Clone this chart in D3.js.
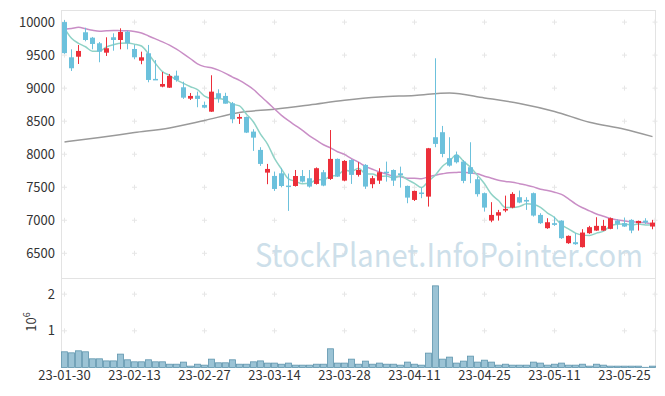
<!DOCTYPE html>
<html lang="en">
<head>
<meta charset="UTF-8">
<title>Candlestick chart</title>
<script src="https://cdn.jsdelivr.net/npm/d3@7"></script>
<style>
    body { margin: 0; background: #fff; }
    #chart text { font-family: "Noto Sans CJK KR", "Noto Sans", sans-serif; }
</style>
</head>
<body>
<div id="chart"></div>
<script>
    const W = 665, H = 396;

    // trading days shown (2023)
    const dates = [
        "2023-01-30","2023-01-31",
        "2023-02-01","2023-02-02","2023-02-03","2023-02-06","2023-02-07","2023-02-08","2023-02-09","2023-02-10",
        "2023-02-13","2023-02-14","2023-02-15","2023-02-16","2023-02-17","2023-02-20","2023-02-21","2023-02-22",
        "2023-02-23","2023-02-24","2023-02-27","2023-02-28",
        "2023-03-02","2023-03-03","2023-03-06","2023-03-07","2023-03-08","2023-03-09","2023-03-10","2023-03-13",
        "2023-03-14","2023-03-15","2023-03-16","2023-03-17","2023-03-20","2023-03-21","2023-03-22","2023-03-23",
        "2023-03-24","2023-03-27","2023-03-28","2023-03-29","2023-03-30","2023-03-31",
        "2023-04-03","2023-04-04","2023-04-05","2023-04-06","2023-04-07","2023-04-10","2023-04-11","2023-04-12",
        "2023-04-13","2023-04-14","2023-04-17","2023-04-18","2023-04-19","2023-04-20","2023-04-21","2023-04-24",
        "2023-04-25","2023-04-26","2023-04-27","2023-04-28",
        "2023-05-02","2023-05-03","2023-05-04","2023-05-08","2023-05-09","2023-05-10","2023-05-11","2023-05-12",
        "2023-05-15","2023-05-16","2023-05-17","2023-05-18","2023-05-19","2023-05-22","2023-05-23","2023-05-24",
        "2023-05-25","2023-05-26","2023-05-30","2023-05-31","2023-06-01"
    ];

    const open = [10000,9467,9476,9846,9764,9679,9537,9770,9729,9855,
        9593,9416,9528,9140,9023,9007,9189,9013,8841,8886,
        8746,8644,8923,8882,8771,8538,8564,8342,8065,7721,
        7671,7711,7525,7519,7670,7636,7550,7727,7626,7929,
        7600,7913,7687,7838,7546,7600,7735,7761,7711,7520,
        7308,7420,7358,8257,8333,7940,7989,7888,7803,7621,
        7410,6995,7071,7147,7192,7349,7308,7410,7081,6880,
        6956,6995,6653,6668,6593,6804,6844,6844,6870,6995,
        6956,7006,6956,6995,6905];
    const high = [10030,9588,9653,9915,9775,9699,9770,9830,9906,9870,
        9654,9552,9654,9425,9244,9215,9265,9098,8927,8947,
        8796,9195,8983,8930,8791,8610,8570,8378,8106,7853,
        7737,7787,7707,7761,7761,7761,7800,7761,8366,7935,
        7910,7925,7879,7850,7672,7788,7888,7770,7812,7525,
        7450,7495,8095,9452,8428,8257,8040,7913,8181,7661,
        7420,7274,7157,7373,7425,7450,7349,7420,7107,7031,
        7056,7000,6770,6804,6865,6915,7046,7006,7041,7016,
        7041,7016,6995,7031,7006];
    const low = [9520,9260,9366,9709,9588,9392,9487,9567,9588,9588,
        9437,9362,9089,9124,9013,9003,9098,8837,8821,8711,
        8695,8640,8780,8765,8469,8458,8320,8050,7823,7546,
        7444,7499,7142,7510,7570,7495,7540,7515,7611,7655,
        7590,7550,7661,7475,7485,7550,7585,7520,7494,7258,
        7292,7334,7207,8106,7954,7812,7860,7561,7561,7358,
        7131,6970,6995,7122,7181,7258,7157,7056,6945,6870,
        6915,6718,6643,6628,6587,6794,6839,6839,6864,6864,
        6900,6804,6844,6945,6864];
    const close = [9530,9301,9563,9729,9669,9552,9604,9729,9850,9679,
        9467,9467,9124,9130,9063,9185,9124,8856,8882,8837,
        8705,8947,8847,8765,8529,8564,8327,8251,7853,7777,
        7474,7519,7510,7670,7585,7510,7788,7525,7929,7661,
        7898,7687,7762,7510,7637,7727,7715,7600,7685,7343,
        7444,7400,8090,8156,8004,7827,7878,7596,7702,7395,
        7192,7081,7122,7172,7399,7268,7283,7071,6956,6970,
        6930,6729,6764,6638,6814,6895,6915,6915,7031,6945,
        6905,6844,6990,6965,6965];

    // volume, millions of shares
    const volume = [0.428,0.40,0.455,0.428,0.237,0.237,0.18,0.18,0.365,0.21,
        0.155,0.155,0.21,0.155,0.155,0.09,0.09,0.147,0.037,0.09,
        0.064,0.228,0.128,0.128,0.21,0.09,0.09,0.155,0.18,0.12,
        0.12,0.09,0.12,0.064,0.064,0.064,0.09,0.09,0.51,0.12,
        0.12,0.228,0.09,0.174,0.09,0.12,0.09,0.09,0.064,0.147,
        0.09,0.064,0.392,2.226,0.228,0.283,0.12,0.174,0.31,0.147,
        0.2,0.147,0.064,0.09,0.064,0.064,0.064,0.147,0.12,0.064,
        0.09,0.12,0.064,0.064,0.09,0.037,0.09,0.064,0.037,0.037,
        0.037,0.037,0.037,0.005,0.037];

    // moving average values before a full window is available
    const ma5Head = [9905, 9754, 9679, 9627];
    const ma20Head = [9891,9903,9921,9900,9875,9860,9868,9873,9870,9868,
        9858,9835,9790,9745,9700,9650,9590,9520,9445];
    // long moving average, read every 5 trading days
    const maLongIdx = [0,5,10,15,20,25,30,35,40,45,50,55,60,65,70,75,80,84];
    const maLongVal = [8186,8254,8327,8398,8511,8632,8681,8746,8817,8867,8890,8927,8852,8768,8647,8484,8378,8266];

    const priceTicks = [6500,7000,7500,8000,8500,9000,9500,10000];
    const volTicks = [1,2];
    const xTickIdx = [0,10,20,30,40,50,60,70,80];

    const rolling = (n, head) => close.map((c, i) =>
        i < n - 1 ? head[i] : d3.mean(close.slice(i - n + 1, i + 1)));
    const ma5 = rolling(5, ma5Head);
    const ma20 = rolling(20, ma20Head);

    const pLeft = 61, pRight = 656, pTop = 10, pMid = 278, pBottom = 367.5;
    const fontFam = "'Noto Sans CJK KR', 'Noto Sans', sans-serif";

    const svg = d3.select("#chart").append("svg")
        .attr("width", W).attr("height", H);

    const x = d3.scaleBand().domain(dates).range([pLeft, pRight]);
    const cx = i => x(dates[i]) + x.bandwidth() / 2;
    const y = d3.scaleLinear().domain([6126, 10183]).range([pMid, pTop]);
    const yv = d3.scaleLinear().domain([0, 2.44]).range([pBottom, pMid]);

    // frame
    const frame = svg.append("g").attr("stroke", "#e3e3e3").attr("stroke-width", 1);
    frame.append("line").attr("x1", pLeft).attr("x2", pRight).attr("y1", pTop + 0.5).attr("y2", pTop + 0.5);
    frame.append("line").attr("x1", pLeft).attr("x2", pRight).attr("y1", pMid + 0.5).attr("y2", pMid + 0.5);
    frame.append("line").attr("x1", pLeft + 0.5).attr("x2", pLeft + 0.5).attr("y1", pTop).attr("y2", pBottom);
    frame.append("line").attr("x1", pRight - 0.5).attr("x2", pRight - 0.5).attr("y1", pTop).attr("y2", pBottom);

    // grid crosses
    const gx = xTickIdx.map(cx).concat([pRight - 1]);
    const gy = priceTicks.map(y).concat(volTicks.map(yv));
    const crosses = [];
    gx.forEach(a => gy.forEach(b => crosses.push([a, b])));
    svg.append("g").selectAll("path").data(crosses).enter().append("path")
        .attr("d", d => `M${d[0] - 2.5},${d[1]}h5M${d[0]},${d[1] - 2.5}v5`)
        .attr("stroke", "#e6e6e6").attr("stroke-width", 1);

    // watermark
    svg.append("text")
        .attr("x", 255).attr("y", 266.5)
        .attr("font-size", 32)
        .attr("font-family", fontFam)
        .attr("textLength", 388).attr("lengthAdjust", "spacingAndGlyphs")
        .attr("fill", "#cddfea")
        .text("StockPlanet.InfoPointer.com");

    // volume bars
    svg.append("g").selectAll("rect").data(volume).enter().append("rect")
        .attr("x", (d, i) => x(dates[i]) + 0.5)
        .attr("width", x.bandwidth() - 1)
        .attr("y", d => yv(d))
        .attr("height", d => pBottom - yv(d))
        .attr("fill", "#9bc3d5")
        .attr("stroke", "#5e95ad")
        .attr("stroke-width", 0.8);

    // moving averages
    const line = d3.line().x(d => d[0]).y(d => d[1]).curve(d3.curveMonotoneX);
    const gLong = maLongIdx.map((k, j) => [cx(k), y(maLongVal[j])]);
    svg.append("path").attr("d", line(gLong))
        .attr("fill", "none").attr("stroke", "#9a9a9a").attr("stroke-width", 1.5);
    svg.append("path").attr("d", line(ma20.map((v, i) => [cx(i), y(v)])))
        .attr("fill", "none").attr("stroke", "#c98ec6").attr("stroke-width", 1.5);
    svg.append("path").attr("d", line(ma5.map((v, i) => [cx(i), y(v)])))
        .attr("fill", "none").attr("stroke", "#8fd2c6").attr("stroke-width", 1.5);

    // candles
    const up = "#ec2f3a", down = "#6cc1dc";
    const candles = svg.append("g").selectAll("g").data(close).enter().append("g")
        .attr("fill", (c, i) => c >= open[i] ? up : down)
        .attr("stroke", (c, i) => c >= open[i] ? up : down);
    candles.append("line")
        .attr("x1", (c, i) => cx(i)).attr("x2", (c, i) => cx(i))
        .attr("y1", (c, i) => y(high[i])).attr("y2", (c, i) => y(low[i]))
        .attr("stroke-width", 1);
    candles.append("rect")
        .attr("x", (c, i) => cx(i) - 2.5).attr("width", 5)
        .attr("y", (c, i) => y(Math.max(c, open[i])))
        .attr("height", (c, i) => Math.max(1.5, Math.abs(y(c) - y(open[i]))))
        .attr("stroke", "none");

    // axes
    const axisStyle = g => {
        g.select(".domain").remove();
        g.selectAll(".tick line").remove();
        g.selectAll("text").attr("fill", "#333").attr("font-size", 13)
            .attr("font-family", fontFam);
    };
    svg.append("g").attr("transform", `translate(${pLeft},0)`)
        .call(d3.axisLeft(y).tickValues(priceTicks).tickFormat(d3.format("d"))
            .tickSize(0).tickPadding(6))
        .call(axisStyle);
    svg.append("g").attr("transform", `translate(${pLeft},0)`)
        .call(d3.axisLeft(yv).tickValues(volTicks).tickFormat(d3.format("d"))
            .tickSize(0).tickPadding(6))
        .call(axisStyle);
    svg.append("g").attr("transform", `translate(0,${pBottom})`)
        .call(d3.axisBottom(x).tickValues(xTickIdx.map(i => dates[i]))
            .tickFormat(d => d.slice(2)).tickSize(0).tickPadding(3))
        .call(axisStyle);

    // volume unit
    const unit = svg.append("text")
        .attr("transform", "translate(36,322) rotate(-90)")
        .attr("text-anchor", "middle")
        .attr("font-family", fontFam)
        .attr("fill", "#333").attr("font-size", 13);
    unit.append("tspan").text("10");
    unit.append("tspan").attr("dy", -6).attr("font-size", 9).text("6");
</script>
</body>
</html>
